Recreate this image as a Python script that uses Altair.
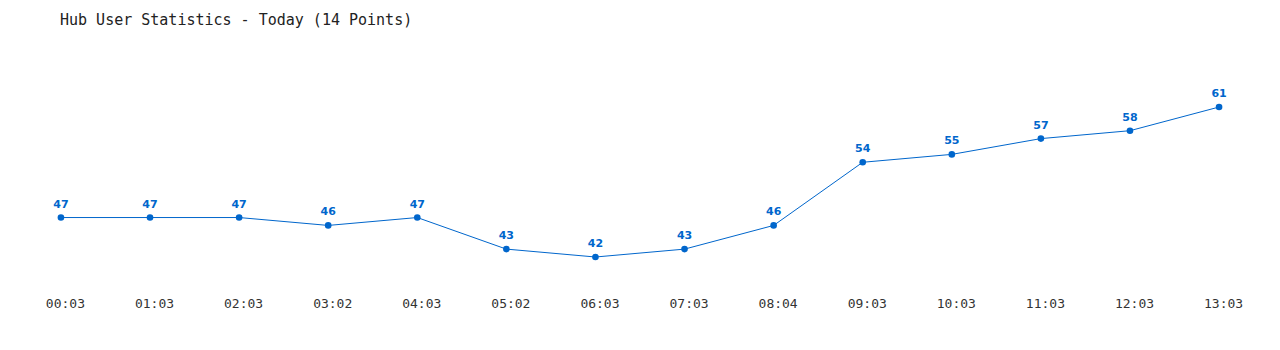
import altair as alt
import pandas as pd

times = ["00:03", "01:03", "02:03", "03:02", "04:03", "05:02", "06:03",
         "07:03", "08:04", "09:03", "10:03", "11:03", "12:03", "13:03"]
users = [47, 47, 47, 46, 47, 43, 42, 43, 46, 54, 55, 57, 58, 61]

df = pd.DataFrame({"time": times, "users": users})

blue = "#0066CC"
x = alt.X("time:O", sort=times,
          scale=alt.Scale(type="point", padding=0.684),
          axis=alt.Axis(title=None, domain=False, ticks=False, grid=False,
                        labelAngle=0, labelFont="DejaVu Sans Mono", labelFontSize=13,
                        labelColor="#333333", labelPadding=7, labelOffset=4))
y = alt.Y("users:Q", scale=alt.Scale(domain=[37.82, 69.49], zero=False, nice=False),
          axis=None)

base = alt.Chart(df).encode(x=x, y=y)
line = base.mark_line(color=blue, strokeWidth=1)
pts = base.mark_circle(color=blue, size=44, opacity=1)
labels = base.mark_text(color=blue, font="DejaVu Sans", fontWeight="bold", fontSize=11,
                        baseline="bottom", dy=-8).encode(text="users:Q")

chart = (line + pts + labels).properties(
    width=1280, height=250,
    autosize=alt.AutoSizeParams(type="none"),
    padding={"left": 0, "top": 40, "right": 0, "bottom": 60},
    title=alt.TitleParams("Hub User Statistics - Today (14 Points)", anchor="start",
                          font="DejaVu Sans Mono", fontSize=15, fontWeight="normal",
                          color="#222222", dx=60, offset=12),
).configure_view(stroke=None)

chart.save("out.html", embed_options={"renderer": "svg", "actions": False})
